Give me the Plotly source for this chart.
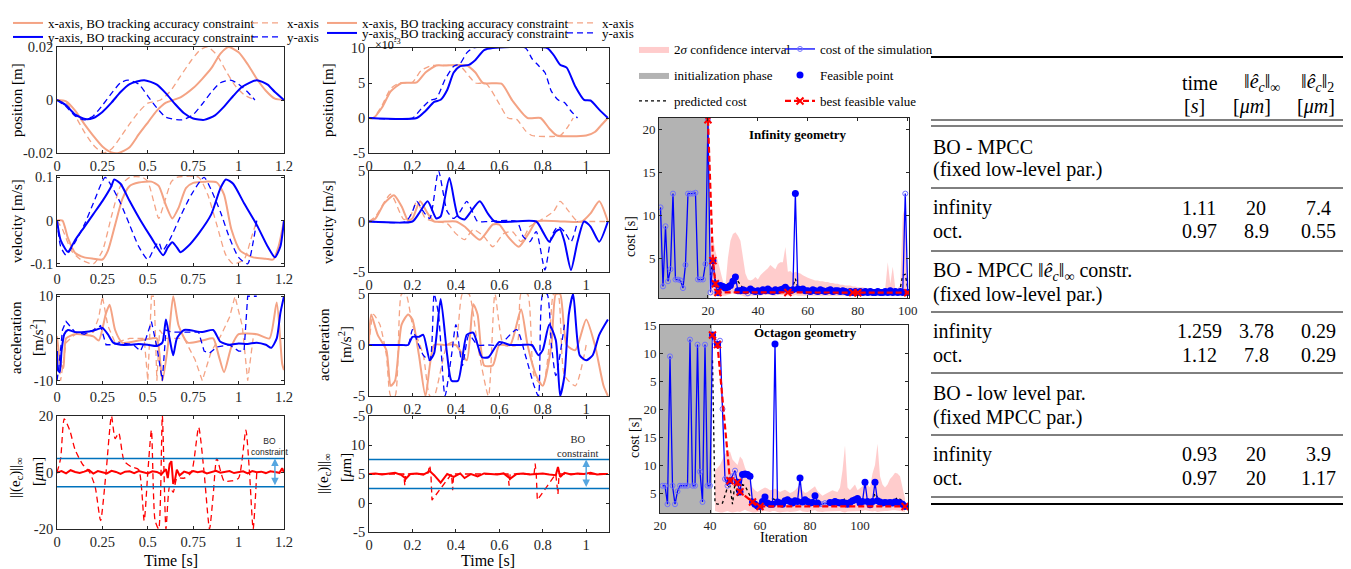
import plotly.graph_objects as go

# ---------------- DATA ----------------
# Left column (time axis 0..1.25 s)
tL_xpos_bo = [0, 0.05, 0.1, 0.15, 0.2, 0.25, 0.3, 0.34, 0.4, 0.45, 0.5, 0.55, 0.6, 0.64, 0.68, 0.75, 0.8, 0.85, 0.9, 0.945, 1.0, 1.05, 1.1, 1.15, 1.2, 1.25]
L_xpos_bo = [0, -0.0005, -0.004, -0.009, -0.0135, -0.0175, -0.0198, -0.02, -0.0178, -0.013, -0.0085, -0.004, -0.001, 0, 0.001, 0.0045, 0.008, 0.012, 0.0175, 0.02, 0.018, 0.0135, 0.008, 0.0035, 0.0005, 0]
tL_xpos = [0, 0.05, 0.1, 0.15, 0.2, 0.255, 0.3, 0.35, 0.4, 0.45, 0.5, 0.57, 0.62, 0.68, 0.74, 0.79, 0.83, 0.88, 0.93, 0.98, 1.03, 1.09]
L_xpos = [0, -0.001, -0.006, -0.012, -0.017, -0.02, -0.0185, -0.014, -0.009, -0.0045, -0.0012, 0, 0.003, 0.009, 0.015, 0.019, 0.02, 0.017, 0.011, 0.0055, 0.002, 0]
tL_ypos_bo = [0, 0.05, 0.1, 0.155, 0.2, 0.25, 0.3, 0.35, 0.4, 0.48, 0.55, 0.6, 0.65, 0.7, 0.75, 0.81, 0.87, 0.92, 0.97, 1.02, 1.1, 1.16, 1.2, 1.25]
L_ypos_bo = [0, -0.002, -0.0055, -0.0072, -0.0068, -0.0045, -0.001, 0.003, 0.006, 0.0075, 0.0058, 0.0025, -0.0015, -0.005, -0.007, -0.0075, -0.0058, -0.0025, 0.0015, 0.005, 0.0075, 0.0058, 0.003, 0]
tL_ypos = [0, 0.05, 0.1, 0.15, 0.2, 0.25, 0.3, 0.35, 0.39, 0.45, 0.5, 0.55, 0.6, 0.69, 0.75, 0.8, 0.85, 0.9, 0.955, 1.0, 1.05, 1.09]
L_ypos = [0, -0.0025, -0.006, -0.0075, -0.006, -0.002, 0.0025, 0.0065, 0.0075, 0.006, 0.0015, -0.003, -0.0065, -0.0075, -0.0055, -0.0015, 0.003, 0.0065, 0.0075, 0.006, 0.003, 0]

tL_yvel_bo = [0, 0.02, 0.06, 0.1, 0.15, 0.2, 0.25, 0.3, 0.315, 0.35, 0.4, 0.46, 0.52, 0.585, 0.61, 0.635, 0.66, 0.68, 0.72, 0.78, 0.85, 0.9, 0.93, 0.97, 1.03, 1.1, 1.16, 1.2, 1.23, 1.25]
L_yvel_bo = [0, -0.045, -0.072, -0.045, -0.015, 0.015, 0.045, 0.08, 0.095, 0.085, 0.045, 0.0, -0.04, -0.08, -0.062, -0.05, -0.062, -0.073, -0.06, -0.03, 0.015, 0.075, 0.095, 0.085, 0.04, -0.01, -0.06, -0.085, -0.06, 0]
tL_xvel_bo = [0, 0.03, 0.06, 0.1, 0.15, 0.2, 0.25, 0.28, 0.32, 0.36, 0.4, 0.45, 0.52, 0.56, 0.6, 0.635, 0.67, 0.71, 0.75, 0.82, 0.88, 0.92, 0.96, 1.01, 1.08, 1.15, 1.19, 1.22, 1.25]
L_xvel_bo = [0, 0, -0.04, -0.075, -0.085, -0.088, -0.09, -0.07, -0.01, 0.05, 0.08, 0.088, 0.09, 0.08, 0.035, 0.005, 0.03, 0.075, 0.087, 0.09, 0.088, 0.06, -0.02, -0.07, -0.085, -0.088, -0.09, -0.06, 0]
tL_xvel = [0, 0.03, 0.08, 0.13, 0.2, 0.25, 0.3, 0.35, 0.4, 0.47, 0.5, 0.535, 0.56, 0.59, 0.63, 0.66, 0.78, 0.83, 0.88, 0.93, 0.97, 1.03, 1.07, 1.1]
L_xvel = [0, -0.02, -0.07, -0.09, -0.1, -0.07, 0.01, 0.08, 0.1, 0.1, 0.09, 0.04, 0.005, 0.04, 0.09, 0.1, 0.1, 0.06, -0.01, -0.08, -0.1, -0.09, -0.04, 0]
tL_yvel = [0, 0.02, 0.05, 0.1, 0.15, 0.2, 0.265, 0.3, 0.35, 0.4, 0.45, 0.5, 0.54, 0.56, 0.58, 0.62, 0.68, 0.74, 0.81, 0.85, 0.9, 0.95, 1.0, 1.05, 1.08, 1.1]
L_yvel = [0, -0.06, -0.08, -0.05, -0.01, 0.04, 0.1, 0.08, 0.04, -0.01, -0.06, -0.09, -0.06, -0.05, -0.07, -0.045, 0.01, 0.06, 0.1, 0.07, 0.02, -0.04, -0.085, -0.1, -0.05, 0]

tL_yacc_bo = [0, 0.005, 0.015, 0.025, 0.04, 0.06, 0.1, 0.15, 0.2, 0.25, 0.28, 0.31, 0.35, 0.4, 0.45, 0.5, 0.55, 0.58, 0.6, 0.62, 0.64, 0.66, 0.7, 0.8, 0.86, 0.9, 0.95, 1.0, 1.05, 1.1, 1.15, 1.18, 1.21, 1.23, 1.25]
L_yacc_bo = [-3, -7.5, -8, -3, 1, 2, 1.5, 1.5, 1.8, 2.5, 1, -1, -1.5, -1.5, -1.3, -1.5, -1.8, -1, 4.5, 0, -4, 0, 2, 1.5, 2, -0.8, -1.5, -1.2, -1.3, -1.0, -1.5, -2.2, 0, 6, 10]
tL_xacc_bo = [0, 0.02, 0.035, 0.05, 0.1, 0.2, 0.23, 0.27, 0.29, 0.32, 0.36, 0.45, 0.52, 0.55, 0.58, 0.61, 0.64, 0.67, 0.72, 0.8, 0.86, 0.89, 0.92, 0.96, 1.0, 1.1, 1.17, 1.21, 1.24, 1.25]
L_xacc_bo = [0.5, -6, -7, 0, 1, 0.5, -0.5, 6, 8, 2, -1, -0.5, 0, 0, -10, -2, 10, 3, -1, -0.5, 0, -4, -8, -2, 1, 1, 0, 8.5, -6, -7.5]
tL_xacc = [0, 0.02, 0.05, 0.1, 0.15, 0.2, 0.23, 0.25, 0.28, 0.32, 0.4, 0.48, 0.5, 0.52, 0.535, 0.55, 0.565, 0.6, 0.7, 0.76, 0.8, 0.85, 0.9, 0.95, 0.98, 1.02, 1.05, 1.08]
L_xacc = [0, -10, -1, 1, 1, 1.5, 5, 10, 3, -1, 0, 0, -10, 10, 10, -10, 2, 0, 0, -5, -10, -3, 0.5, 5, 10, 3, -10, 0]
tL_yacc = [0, 0.01, 0.03, 0.05, 0.1, 0.15, 0.2, 0.24, 0.27, 0.3, 0.35, 0.42, 0.46, 0.49, 0.52, 0.55, 0.58, 0.6, 0.63, 0.7, 0.78, 0.81, 0.84, 0.88, 0.95, 1.0, 1.03, 1.05, 1.07, 1.1]
L_yacc = [-10, -7, 2, 4, 1.5, 1, 2, 3, -1.5, -1.5, -1, -1.5, -3, 0, 4, -2, -10, 2, 1.5, 1.5, 1.5, -3, -3.5, -2, -1.5, -3, -3, 10, 10, 10]

tL_err_bo = [0, 0.025, 0.05, 0.075, 0.1, 0.125, 0.15, 0.175, 0.2, 0.225, 0.25, 0.275, 0.3, 0.325, 0.35, 0.375, 0.4, 0.425, 0.45, 0.475, 0.5, 0.525, 0.55, 0.575, 0.6,
             0.61, 0.62, 0.63, 0.64, 0.65, 0.66, 0.675,
             0.7, 0.725, 0.75, 0.775, 0.8, 0.825, 0.85, 0.875, 0.9, 0.925, 0.95, 0.975, 1.0, 1.025, 1.05, 1.075, 1.1, 1.125, 1.15, 1.175, 1.2, 1.225, 1.24, 1.25]
L_err_bo = [0, 0.5, -0.3, 0.8, 0.2, -0.2, 0.3, 0.9, -0.4, 0.5, 0.1, -0.3, 0.6, 0.2, -0.5, 0.3, 0.4, -0.2, 0.5, 0.1, -0.3, 0.4, 0.2, -0.6, 1.2,
            -2, 3, 4, -4, -2.5, 1, -1,
            0.3, -0.2, 0.5, 0.1, 0.4, -0.3, 0.2, 0.6, -0.1, 0.3, 0.5, -0.2, 0.2, 0.4, -0.3, 0.5, 0.1, 0.3, -0.2, 0.4, 0.2, -0.1, 1.5, 0]
tL_err = [0, 0.02, 0.04, 0.07, 0.1, 0.14, 0.18, 0.21, 0.24, 0.27, 0.3, 0.32, 0.34, 0.37, 0.41, 0.45, 0.48, 0.5, 0.52, 0.54,
          0.56, 0.58, 0.6, 0.62, 0.64, 0.66, 0.7, 0.74, 0.78, 0.81, 0.84, 0.86, 0.88, 0.92, 0.96, 1.0, 1.04, 1.06, 1.08, 1.1]
L_err = [0, 5, 19, 15, 8, 3, 0, -5, -17, 0, 20, 12, 14, 4, 2, 1, -17, 0, 15, -17,
         -20, 20, -20, -5, -7, -2, -2, 0, 16, 0, -20, -8, 5, -3, -3, -2, 15, 0, -20, 0]
L_constraint = [-5, 5]
L_arrow_t = 1.2

# Middle column (time axis 0..1.1 s), position in 1e-3 m
tM_xpos_bo = [0, 0.02, 0.06, 0.1, 0.15, 0.22, 0.26, 0.31, 0.35, 0.45, 0.49, 0.525, 0.61, 0.66, 0.73, 0.79, 0.83, 0.865, 1.0, 1.04, 1.07, 1.1]
M_xpos_bo = [0, 0, 1.5, 3.8, 5, 5.1, 6.5, 7.5, 7.5, 7.5, 6.5, 5.0, 4.9, 2.5, 0, 0, -1.5, -2.5, -2.5, -2.0, -1.0, 0]
tM_xpos = [0, 0.02, 0.06, 0.1, 0.14, 0.2, 0.24, 0.29, 0.33, 0.42, 0.46, 0.49, 0.54, 0.6, 0.64, 0.68, 0.72, 0.75, 0.88, 0.91, 0.94]
M_xpos = [0, 0, 1.8, 4.2, 5, 5.1, 6.8, 7.5, 7.5, 7.4, 6, 5.0, 4.9, 2, 0, -0.2, -1.8, -2.5, -2.5, -1.5, 0]
tM_ypos_bo = [0, 0.22, 0.26, 0.3, 0.33, 0.36, 0.39, 0.42, 0.46, 0.49, 0.53, 0.57, 0.82, 0.85, 0.88, 0.91, 0.95, 0.99, 1.02, 1.06, 1.1]
M_ypos_bo = [0, 0, 1.0, 2.3, 2.6, 4.0, 6.5, 7.4, 7.6, 8.3, 9.7, 10, 10, 9.0, 7.6, 7.2, 4.5, 2.6, 2.5, 1.2, 0]
tM_ypos = [0, 0.2, 0.24, 0.28, 0.31, 0.35, 0.39, 0.42, 0.45, 0.48, 0.72, 0.75, 0.78, 0.81, 0.84, 0.87, 0.9, 0.93, 0.96]
M_ypos = [0, 0, 1.3, 2.5, 2.8, 5.5, 7.4, 7.8, 9.3, 10, 10, 8.5, 7.5, 6.5, 3.8, 2.6, 2.2, 1.0, 0]

tM_xvel_bo = [0, 0.03, 0.07, 0.115, 0.15, 0.18, 0.2, 0.235, 0.27, 0.3, 0.35, 0.4, 0.44, 0.51, 0.57, 0.6, 0.64, 0.69, 0.74, 0.77, 0.9, 0.98, 1.02, 1.06, 1.1]
M_xvel_bo = [0, 0.3, 1.8, 2.6, 1.5, 0.1, 0.3, 2, 0.8, 0, 0, 0, -0.5, -1.8, -0.3, -0.3, -1.5, -2.5, -1, 0, 0, 0, 0.8, 2, 0]
tM_xvel = [0, 0.03, 0.1, 0.16, 0.19, 0.22, 0.26, 0.3, 0.36, 0.4, 0.44, 0.48, 0.53, 0.57, 0.62, 0.66, 0.7, 0.74, 0.78, 0.85, 0.88, 0.92, 0.96, 1.0, 1.1]
M_xvel = [0, 0.5, 2.7, 0.2, 0.5, 2, 0.3, 0, -0.2, -1.2, -1.8, -0.8, -1.5, -2.5, -1.2, -1, -2, -0.5, 0, 1, 2, 1, 0, 0, 0]
tM_yvel_bo = [0, 0.2, 0.23, 0.27, 0.31, 0.33, 0.37, 0.41, 0.44, 0.47, 0.51, 0.55, 0.58, 0.77, 0.8, 0.83, 0.86, 0.88, 0.9, 0.93, 0.96, 0.99, 1.02, 1.06, 1.1]
M_yvel_bo = [0, 0, 0.8, 2, 0.3, 0.5, 4.3, 0.5, 0.2, 1, 2, 0.7, 0, 0, -1, -2, -1, -0.8, -2, -4.8, -2, 0, -0.5, -2, 0]
tM_yvel = [0, 0.17, 0.2, 0.22, 0.25, 0.28, 0.32, 0.36, 0.39, 0.42, 0.45, 0.48, 0.5, 0.55, 0.68, 0.71, 0.74, 0.77, 0.81, 0.84, 0.87, 0.9, 0.93, 0.96]
M_yvel = [0, 0, 1, 2, 1, 0.3, 5, 1, 0.3, 1, 2, 0.8, 0, 0, 0, -1.5, -2, -1, -4.8, -1.5, -0.5, -1, -2, 0]

tM_xacc_bo = [0, 0.01, 0.04, 0.08, 0.1, 0.12, 0.15, 0.18, 0.2, 0.23, 0.26, 0.3, 0.35, 0.4, 0.45, 0.48, 0.5, 0.53, 0.57, 0.6, 0.65, 0.7, 0.73, 0.77, 0.8, 0.84, 0.86, 0.88, 0.91, 0.95, 1.0, 1.04, 1.08, 1.1]
M_xacc_bo = [0.5, 3, 1, -0.5, -4, -3.5, 2, 3, 2.5, -1, -5, 0, 0, 0, -1.5, 4, 3, -2, -2, 0, 0, 3.5, 0, -3, -4, 0, 5, 5, 0, -0.5, 2.5, 0, -4, -5]
tM_xacc = [0, 0.02, 0.05, 0.08, 0.1, 0.12, 0.15, 0.17, 0.2, 0.25, 0.28, 0.3, 0.36, 0.4, 0.43, 0.46, 0.5, 0.55, 0.58, 0.62, 0.68, 0.7, 0.73, 0.76, 0.8, 0.83, 0.85, 0.87, 0.9, 0.95, 1.0]
M_xacc = [0, 3, 2, -1, -5, -5, 5, 5, 2, -1, -5, -5, 0, 0.5, 5, 5, 0, -5, 5, 0, 0, 5, 5, -3, -4, 0, 5, 5, -3, -4, 0]
tM_yacc_bo = [0, 0.15, 0.18, 0.2, 0.23, 0.25, 0.28, 0.3, 0.33, 0.36, 0.38, 0.41, 0.45, 0.48, 0.52, 0.55, 0.6, 0.65, 0.7, 0.75, 0.78, 0.8, 0.83, 0.86, 0.88, 0.9, 0.92, 0.94, 0.97, 1.0, 1.03, 1.06, 1.1]
M_yacc_bo = [0, 0, 0, 0.8, 0.8, 1, -1.5, -0.8, 4.5, -1, -3.5, -3.5, 1, 1.2, -1.2, -1.2, 0.3, 0, 0, 0, -1, -0.5, 2, 0.5, -5, -3, 3, 5, -1, -1.5, -1, 1, 2.5]
tM_yacc = [0, 0.15, 0.18, 0.2, 0.22, 0.25, 0.28, 0.3, 0.32, 0.35, 0.38, 0.4, 0.43, 0.46, 0.5, 0.55, 0.6, 0.68, 0.72, 0.76, 0.78, 0.8, 0.82, 0.84, 0.86, 0.9]
M_yacc = [0, 0, 0, 1.5, 0.5, -1, -1.5, 5, 3, -5, -1, 2, -2, 1, 0, 0, 0, 1.5, -1, -4, -5, 5, 5, 0, -3, 2]

tM_err_bo = [0, 0.03, 0.06, 0.09, 0.12, 0.15, 0.17, 0.19, 0.22, 0.25, 0.28, 0.3, 0.33, 0.36, 0.39, 0.42, 0.44, 0.47, 0.5, 0.53,
             0.56, 0.59, 0.62, 0.65, 0.68, 0.71, 0.74, 0.77, 0.8, 0.83, 0.86, 0.87, 0.88, 0.9, 0.93, 0.96, 0.99, 1.02, 1.05, 1.08, 1.1]
M_err_bo = [5, 5.1, 4.9, 5.0, 5.2, 4.8, 4.2, 5.0, 5.1, 4.9, 5.5, 4.8, 3.5, 5.0, 4.5, 5.1, 4.3, 5.0, 4.6, 5.1,
            5.0, 4.9, 5.1, 4.2, 5.0, 5.1, 4.9, 5.0, 5.1, 4.9, 4.8, 6.2, 4.5, 5.2, 4.9, 5.1, 5.0, 5.2, 4.9, 5.0, 5.0]
tM_err = [0, 0.16, 0.165, 0.17, 0.27, 0.28, 0.285, 0.29, 0.38, 0.385, 0.39, 0.64, 0.645, 0.65, 0.76, 0.765, 0.77, 0.775, 0.86, 0.87, 0.875, 1.1]
M_err = [5, 5, 3, 5, 5, 6.5, 5, 0.5, 5, 2.2, 5, 5, 3, 5, 5, 6.8, 5, 0.5, 5, 1.5, 5, 5]
M_constraint = [2.5, 7.5]
M_arrow_t = 1.0

# BO - infinity geometry (iterations 1..100)
inf_iter = list(range(1, 101))
inf_cost = [10.9, 1.7, 8.7, 2.3, 3.7, 12.5, 2.5, 2.5, 2.4, 1.5,
            4.2, 12.5, 12.5, 12.5, 12.6, 2.5, 2.5, 2.5, 4.3, 21.1,
            1.0, 4.7, 2.0, 1.0, 1.8, 1.7, 1.5, 1.6, 1.8, 2.3,
            2.8, 1.2, 1.2, 1.3, 1.2, 0.9, 1.4, 1.2, 1.1, 1.2,
            1.1, 1.3, 1.2, 1.4, 1.2, 1.1, 1.3, 1.2, 1.3, 1.4,
            1.6, 1.3, 1.2, 1.3, 12.5, 1.4, 1.3, 1.4, 1.2, 1.2,
            1.1, 1.3, 1.2, 1.1, 1.3, 1.2, 1.1, 1.2, 1.3, 1.1,
            1.2, 1.2, 1.1, 1.2, 1.1, 1.0, 1.1, 1.0, 1.1, 1.0,
            1.1, 1.0, 1.1, 1.0, 1.1, 1.0, 1.0, 1.1, 1.0, 1.0,
            1.1, 1.0, 1.2, 1.0, 1.1, 1.0, 1.1, 1.0, 12.5, 1.0]
inf_infeasible = [21, 36, 99]
inf_init_end = 20.5
inf_band_iter = list(range(21, 101))
inf_band_hi = [7.0, 7.3, 5.8, 4.5, 3.2, 2.3, 1.8, 5.0, 7.0,
               7.8, 8.0, 7.6, 7.0, 5.0, 3.2, 2.5, 2.4, 2.5, 2.8,
               2.5, 3.0, 3.3, 3.5, 3.8, 4.2, 4.0, 3.7, 4.3, 4.5,
               4.5, 6.3, 3.4, 3.5, 3.2, 3.4, 3.3, 3.2, 3.0, 2.8,
               2.7, 2.6, 2.5, 2.4, 2.4, 2.3, 2.3, 2.2, 2.2, 2.1,
               2.1, 2.0, 2.0, 1.9, 1.9, 1.8, 1.8, 1.8, 1.7, 1.7,
               1.6, 1.6, 1.6, 1.5, 1.5, 1.5, 1.4, 1.4, 1.4, 1.4,
               1.3, 1.5, 4.5, 2.0, 4.0, 1.5, 1.5, 1.8, 10.0, 11.0,
               1.0]
inf_band_lo = [0.6, 0.7, 0.6, 0.5, 0.5, 0.6, 0.6, 0.7, 0.8,
               0.9, 0.9, 0.8, 0.7, 0.6, 0.5, 0.5, 0.6, 0.6, 0.6,
               0.6, 0.6, 0.7, 0.7, 0.7, 0.7, 0.6, 0.6, 0.7, 0.7,
               0.7, 0.8, 0.6, 0.6, 0.6, 0.7, 0.6, 0.6, 0.6, 0.6,
               0.6, 0.6, 0.6, 0.6, 0.6, 0.6, 0.6, 0.6, 0.6, 0.6,
               0.6, 0.6, 0.6, 0.6, 0.6, 0.6, 0.6, 0.6, 0.6, 0.6,
               0.6, 0.6, 0.6, 0.6, 0.6, 0.6, 0.6, 0.6, 0.6, 0.6,
               0.6, 0.6, 0.7, 0.6, 0.7, 0.6, 0.6, 0.6, 0.8, 0.8,
               0.6]
inf_pred = [3.0, 4.5, 2.2, 1.3, 1.0, 1.1, 1.8, 2.0, 1.5,
            2.5, 2.7, 2.3, 1.8, 1.5, 1.2, 1.0, 1.2, 1.3, 1.2,
            1.3, 1.2, 1.4, 1.3, 1.5, 1.3, 1.2, 1.4, 1.3, 1.5,
            1.6, 1.9, 1.3, 1.4, 1.7, 2.6, 1.5, 1.3, 1.4, 1.3,
            1.2, 1.3, 1.2, 1.2, 1.3, 1.2, 1.2, 1.3, 1.2, 1.2,
            1.2, 1.1, 1.2, 1.2, 1.1, 1.2, 1.1, 1.1, 1.2, 1.1,
            1.1, 1.2, 1.1, 1.1, 1.1, 1.2, 1.1, 1.1, 1.1, 1.2,
            1.1, 1.1, 1.3, 1.2, 1.2, 1.1, 1.1, 1.5, 3.0, 3.1,
            1.5]
inf_best_iter = [20, 22, 23, 24, 52, 78, 80, 100]
inf_best = [21.1, 4.7, 2.0, 1.0, 1.0, 0.98, 0.97, 0.97]

# BO - octagon geometry (iterations 21..118, broken axis values as drawn)
oct_iter = list(range(21, 119))
oct_cost = [6.3, 6.3, 3.0, 29.4, 6.3, 3.0, 5.3, 6.3, 6.3, 6.3,
            6.3, 32.4, 6.3, 6.3, 31.5, 8.8, 3.4, 31.5, 6.3, 6.3,
            33.2, 32.0, 31.5, 32.2, 20.0, 7.5, 6.3, 7.2, 8.0, 9.0,
            6.9, 5.2, 8.3, 8.4, 8.3, 8.0, 3.4, 3.0, 2.7, 2.6,
            3.5, 4.3, 3.2, 3.0, 3.0, 31.6, 3.4, 3.2, 3.0, 3.6,
            3.8, 3.5, 3.2, 3.6, 3.5, 7.7, 3.4, 3.8, 3.5, 3.2,
            3.3, 4.5, 3.2, 3.0, 3.0, 3.2, 3.1, 3.3, 3.2, 3.5,
            3.3, 3.2, 3.3, 3.2, 3.0, 3.3, 3.6, 3.8, 4.0, 3.2,
            3.5, 6.9, 3.5, 2.9, 3.5, 6.9, 3.6, 3.4, 3.2, 3.3,
            3.2, 3.3, 3.2, 3.4, 3.3, 3.2, 3.0, 2.6]
oct_infeasible = [42, 44, 45, 46, 47, 49, 50, 84, 85, 86, 87]
oct_init_end = 40.8
oct_band_iter = list(range(42, 119))
oct_band_hi = [9.0, 9.5, 10.0, 11.0, 12.0, 12.2, 12.4, 11.0, 10.5,
               10.0, 11.5, 11.0, 9.5, 8.5, 7.0, 6.0, 5.5, 5.2, 5.5,
               5.8, 6.0, 5.8, 5.5, 5.6, 5.8, 5.5, 5.2, 5.4, 5.6,
               5.3, 5.0, 5.2, 5.5, 6.0, 6.5, 5.5, 5.0, 5.2, 5.5,
               5.8, 6.2, 5.3, 4.8, 4.5, 4.8, 5.0, 5.2, 5.5, 5.3,
               5.2, 6.0, 9.0, 13.5, 6.0, 5.5, 6.0, 6.5, 5.5, 5.8,
               6.2, 7.0, 6.5, 6.0, 8.5, 10.0, 13.8, 8.0, 6.5, 6.0,
               6.5, 7.5, 8.0, 8.6, 8.5, 8.0, 6.0, 4.0]
oct_band_lo = [1.8, 1.6, 1.5, 1.5, 1.6, 1.8, 1.6, 1.5, 1.6,
               1.7, 1.6, 1.8, 2.0, 1.8, 1.6, 1.5, 1.5, 1.6, 1.7,
               1.8, 1.8, 1.7, 1.6, 1.8, 1.8, 1.6, 1.5, 1.6, 1.7,
               1.7, 1.6, 1.6, 1.7, 1.8, 1.9, 1.7, 1.6, 1.6, 1.7,
               1.8, 1.9, 1.7, 1.6, 1.6, 1.7, 1.7, 1.8, 1.8, 1.7,
               1.7, 1.8, 1.6, 1.5, 1.7, 1.7, 1.8, 1.8, 1.7, 1.8,
               1.8, 1.9, 1.8, 1.7, 1.7, 1.8, 1.6, 1.7, 1.8, 1.8,
               1.8, 1.9, 1.9, 1.9, 1.9, 1.8, 1.7, 1.6]
oct_pred_iter = list(range(41, 119))
oct_pred = [28.7, 3.2, 3.0, 3.0, 3.2, 4.5, 6.0, 6.2, 3.0, 6.8,
            4.5, 5.0, 6.5, 6.3, 5.5, 4.5, 3.5, 3.0, 2.8, 2.8,
            3.0, 3.5, 3.0, 3.2, 4.0, 3.8, 3.0, 3.2, 3.0, 3.3,
            3.5, 3.2, 3.0, 3.4, 3.6, 4.0, 3.5, 3.2, 3.0, 3.3,
            3.5, 3.4, 3.0, 2.9, 3.0, 3.1, 3.3, 3.2, 3.0, 3.6,
            3.5, 3.3, 3.6, 4.0, 3.6, 3.3, 3.4, 3.5, 3.8, 3.4,
            3.5, 3.8, 3.6, 3.0, 3.8, 5.0, 4.2, 3.5, 3.3, 3.4,
            3.3, 3.5, 3.4, 3.8, 4.2, 3.9, 3.5, 3.2]
oct_best_iter = [41, 43, 48, 51, 52, 57, 60, 118]
oct_best = [33.2, 31.5, 7.2, 6.9, 5.2, 3.4, 2.6, 2.6]

# Table
table_cols = ["time", "‖<i>ê</i><sub><i>c</i></sub>‖<sub>∞</sub>", "‖<i>ê</i><sub><i>c</i></sub>‖<sub>2</sub>"]
table_units = ["[<i>s</i>]", "[<i>μm</i>]", "[<i>μm</i>]"]
table_groups = [["BO - MPCC", "(fixed low-level par.)"],
                ["BO - MPCC ‖<i>ê</i><sub><i>c</i></sub>‖<sub>∞</sub> constr.", "(fixed low-level par.)"],
                ["BO - low level par.", "(fixed MPCC par.)"]]
table_rows = [[("infinity", "1.11", "20", "7.4"), ("oct.", "0.97", "8.9", "0.55")],
              [("infinity", "1.259", "3.78", "0.29"), ("oct.", "1.12", "7.8", "0.29")],
              [("infinity", "0.93", "20", "3.9"), ("oct.", "0.97", "20", "1.17")]]

# ---------------- FIGURE ----------------
# The page body keeps an 8px default margin, so the figure is drawn from (8, 8) on screen.
OFF = 8
W, H = 1351 - OFF, 569 - OFF
def PX(x): return (x - OFF) / W
def PY(y): return 1 - (y - OFF) / H

SERIF = 'Liberation Serif'
SANS = 'Liberation Sans'
SALMON = '#F4A384'
BLUE = '#0000FF'
RED = '#FF0000'
CBLUE = '#0072BD'
ABLUE = '#55A6E0'
AXC = '#262626'

boxes = {1: (57, 284, 47, 153), 2: (57, 284, 176, 266), 3: (57, 284, 295, 384), 4: (57, 284, 416, 529),
         5: (369, 609, 48, 153), 6: (369, 609, 171, 272), 7: (369, 609, 294, 396), 8: (369, 609, 416, 532),
         9: (659, 909, 118, 298), 10: (660, 908, 325, 513)}

fig = go.Figure()

def ax(k):
    return ('x' if k == 1 else f'x{k}'), ('y' if k == 1 else f'y{k}')

def line(k, x, y, color, width, dash='solid', name=None, legend=None, shape='spline'):
    xa, ya = ax(k)
    fig.add_trace(go.Scatter(x=x, y=y, xaxis=xa, yaxis=ya, mode='lines',
                             line=dict(color=color, width=width, dash=dash, shape=shape,
                                       smoothing=0.6 if shape == 'spline' else None),
                             name=name, legend=legend, showlegend=name is not None,
                             hoverinfo='skip'))

DASH = '6px,4px'
# left column
line(1, tL_xpos, L_xpos, SALMON, 1.3, DASH, 'x-axis', 'legend3')
line(1, tL_xpos_bo, L_xpos_bo, SALMON, 2, 'solid', 'x-axis, BO tracking accuracy constraint', 'legend')
line(1, tL_ypos, L_ypos, BLUE, 1.3, DASH, 'y-axis', 'legend4')
line(1, tL_ypos_bo, L_ypos_bo, BLUE, 2, 'solid', 'y-axis, BO tracking accuracy constraint', 'legend2')

line(2, tL_xvel, L_xvel, SALMON, 1.3, DASH)
line(2, tL_xvel_bo, L_xvel_bo, SALMON, 2)
line(2, tL_yvel, L_yvel, BLUE, 1.3, DASH)
line(2, tL_yvel_bo, L_yvel_bo, BLUE, 2)

line(3, tL_xacc, L_xacc, SALMON, 1.3, DASH, shape='linear')
line(3, tL_xacc_bo, L_xacc_bo, SALMON, 2)
line(3, tL_yacc, L_yacc, BLUE, 1.3, DASH, shape='linear')
line(3, tL_yacc_bo, L_yacc_bo, BLUE, 2)

line(4, tL_err, L_err, RED, 1.3, DASH)
line(4, tL_err_bo, L_err_bo, RED, 2, shape='linear')

# middle column
line(5, tM_xpos, M_xpos, SALMON, 1.3, DASH, 'x-axis', 'legend7')
line(5, tM_xpos_bo, M_xpos_bo, SALMON, 2, 'solid', 'x-axis, BO tracking accuracy constraint', 'legend5')
line(5, tM_ypos, M_ypos, BLUE, 1.3, DASH, 'y-axis', 'legend8')
line(5, tM_ypos_bo, M_ypos_bo, BLUE, 2, 'solid', 'y-axis, BO tracking accuracy constraint', 'legend6')

line(6, tM_xvel, M_xvel, SALMON, 1.3, DASH)
line(6, tM_xvel_bo, M_xvel_bo, SALMON, 2)
line(6, tM_yvel, M_yvel, BLUE, 1.3, DASH)
line(6, tM_yvel_bo, M_yvel_bo, BLUE, 2)

line(7, tM_xacc, M_xacc, SALMON, 1.3, DASH)
line(7, tM_xacc_bo, M_xacc_bo, SALMON, 2)
line(7, tM_yacc, M_yacc, BLUE, 1.3, DASH)
line(7, tM_yacc_bo, M_yacc_bo, BLUE, 2)

line(8, tM_err, M_err, RED, 1.3, DASH, shape='linear')
line(8, tM_err_bo, M_err_bo, RED, 2, shape='linear')

# constraint lines
for k, cons, xr in [(4, L_constraint, [0, 1.25]), (8, M_constraint, [0, 1.105])]:
    xa, ya = ax(k)
    for c in cons:
        fig.add_trace(go.Scatter(x=xr, y=[c, c], xaxis=xa, yaxis=ya, mode='lines',
                                 line=dict(color=CBLUE, width=1.5), showlegend=False, hoverinfo='skip'))

# BO plots
INF_YR = [0.35, 21.3]
OCT_YR = [1.43, 35.0]
INF_XR = [0.4, 100.5]
OCT_XR = [20, 119.2]

def bo(k, it, cost, infeas, init_end, xr, yr, band_it, band_lo, band_hi, pred_it, pred, best_it, best, leg):
    xa, ya = ax(k)
    fig.add_trace(go.Scatter(x=[xr[0], xr[0], init_end, init_end, xr[0]], y=[yr[0], yr[1], yr[1], yr[0], yr[0]],
                             xaxis=xa, yaxis=ya, mode='lines', fill='toself', fillcolor='#B3B3B3',
                             line=dict(width=0, color='#B3B3B3'), name='initialization phase',
                             legend='legend10', showlegend=leg, hoverinfo='skip'))
    fig.add_trace(go.Scatter(x=band_it, y=band_lo, xaxis=xa, yaxis=ya, mode='lines',
                             line=dict(width=0, color='rgba(0,0,0,0)'), showlegend=False, hoverinfo='skip'))
    fig.add_trace(go.Scatter(x=band_it, y=band_hi, xaxis=xa, yaxis=ya, mode='lines', fill='tonexty',
                             fillcolor='rgba(255,170,170,0.6)', line=dict(width=0, color='rgba(255,170,170,0.6)'),
                             name='2<i>σ</i> confidence interval', legend='legend9', showlegend=leg,
                             hoverinfo='skip'))
    fig.add_trace(go.Scatter(x=pred_it, y=pred, xaxis=xa, yaxis=ya, mode='lines',
                             line=dict(color='black', width=1.3, dash='dot'), name='predicted cost',
                             legend='legend11', showlegend=leg, hoverinfo='skip'))
    fig.add_trace(go.Scatter(x=it, y=cost, xaxis=xa, yaxis=ya, mode='lines+markers',
                             line=dict(color=BLUE, width=1.3),
                             marker=dict(symbol='circle-open', size=5, color='#7070FF', line=dict(width=1)),
                             name='cost of the simulation', legend='legend12', showlegend=leg,
                             hoverinfo='skip'))
    fx = [i for i, c in zip(it, cost) if i > init_end and i not in infeas]
    fy = [c for i, c in zip(it, cost) if i > init_end and i not in infeas]
    fig.add_trace(go.Scatter(x=fx, y=fy, xaxis=xa, yaxis=ya, mode='markers',
                             marker=dict(symbol='circle', size=7, color=BLUE),
                             name='Feasible point', legend='legend13', showlegend=leg,
                             hoverinfo='skip'))
    fig.add_trace(go.Scatter(x=best_it, y=best, xaxis=xa, yaxis=ya, mode='lines+markers',
                             line=dict(color=RED, width=2.2, dash='6px,3px'),
                             marker=dict(symbol='x-thin', size=7, color=RED, line=dict(width=2, color=RED)),
                             name='best feasible value', legend='legend14', showlegend=leg,
                             hoverinfo='skip'))

bo(9, inf_iter, inf_cost, inf_infeasible, inf_init_end, INF_XR, INF_YR, inf_band_iter, inf_band_lo, inf_band_hi,
   inf_band_iter, inf_pred, inf_best_iter, inf_best, True)
bo(10, oct_iter, oct_cost, oct_infeasible, oct_init_end, OCT_XR, OCT_YR, oct_band_iter, oct_band_lo, oct_band_hi,
   oct_pred_iter, oct_pred, oct_best_iter, oct_best, False)

# ---------------- AXES ----------------
base = dict(showline=True, linecolor=AXC, linewidth=0.8, mirror='ticks', ticks='inside', ticklen=3,
            tickcolor=AXC, tickwidth=0.8, showgrid=False, zeroline=False)

tL = dict(range=[0, 1.25], tickvals=[0, 0.25, 0.5, 0.75, 1, 1.25], ticktext=['0', '0.25', '0.5', '0.75', '1', '1.2'])
tM = dict(range=[0, 1.105], tickvals=[0, 0.2, 0.4, 0.6, 0.8, 1.0], ticktext=['0', '0.2', '0.4', '0.6', '0.8', '1'])
yspecs = {
    1: dict(range=[-0.02, 0.02], tickvals=[-0.02, 0, 0.02], ticktext=['-0.02', '0', '0.02']),
    2: dict(range=[-0.105, 0.103], tickvals=[-0.1, 0, 0.1], ticktext=['-0.1', '0', '0.1']),
    3: dict(range=[-10.8, 10.3], tickvals=[-10, 0, 10], ticktext=['-10', '0', '10']),
    4: dict(range=[-20, 20], tickvals=[-20, 0, 20], ticktext=['-20', '0', '20']),
    5: dict(range=[-5, 10], tickvals=[-5, 0, 5, 10], ticktext=['-5', '0', '5', '10']),
    6: dict(range=[-5, 5], tickvals=[-5, 0, 5], ticktext=['-5', '0', '5']),
    7: dict(range=[-5, 5], tickvals=[-5, 0, 5], ticktext=['-5', '0', '5']),
    8: dict(range=[-5, 15], tickvals=[-5, 0, 5, 10, 15], ticktext=['-5', '0', '5', '10', '-5']),
    9: dict(range=INF_YR, tickvals=[5, 10, 15, 20], ticktext=['5', '10', '15', '20']),
    10: dict(range=OCT_YR, tickvals=[5, 10, 15, 20, 25, 30, 35], ticktext=['5', '10', '15', '20', '5', '10', '15']),
}
xspecs = {k: (tL if k <= 4 else tM) for k in range(1, 9)}
xspecs[9] = dict(range=INF_XR, tickvals=[20, 40, 60, 80, 100], ticktext=['20', '40', '60', '80', '100'])
xspecs[10] = dict(range=OCT_XR, tickvals=[20, 40, 60, 80, 100], ticktext=['20', '40', '60', '80', '100'])

lay = {}
for k, (x0, x1, y0, y1) in boxes.items():
    xn = 'xaxis' if k == 1 else f'xaxis{k}'
    yn = 'yaxis' if k == 1 else f'yaxis{k}'
    xa, ya = ax(k)
    fs = 13 if k >= 9 else 14.5
    bx = dict(base, tickfont=dict(family=SERIF, size=fs, color=AXC))
    lay[xn] = dict(bx, domain=[PX(x0), PX(x1)], anchor=ya, **xspecs[k])
    lay[yn] = dict(bx, domain=[PY(y1), PY(y0)], anchor=xa, **yspecs[k])
fig.update_layout(**lay)

# ---------------- ANNOTATIONS ----------------
ann = []
def text(x, y, s, size=14, angle=0, xanchor='center', family=SERIF, color='black', yanchor='middle'):
    ann.append(dict(x=PX(x), y=PY(y), xref='paper', yref='paper', text=s, showarrow=False,
                    textangle=angle, xanchor=xanchor, yanchor=yanchor,
                    font=dict(family=family, size=size, color=color)))

# y titles
text(17, 100, 'position [m]', 15, -90)
text(17, 221, 'velocity [m/s]', 15, -90)
text(16, 338, 'acceleration', 15, -90)
text(37, 338, '[m/s<sup>2</sup>]', 15, -90)
text(16, 478, '||(e<sub>c</sub>)||<sub>∞</sub>', 15, -90)
text(38, 472, '[<i>μ</i>m]', 15, -90)
text(328, 100, 'position [m]', 15, -90)
text(328, 222, 'velocity [m/s]', 15, -90)
text(324, 345, 'acceleration', 15, -90)
text(345, 345, '[m/s<sup>2</sup>]', 15, -90)
text(324, 474, '||(e<sub>c</sub>)||<sub>∞</sub>', 15, -90)
text(346, 468, '[<i>μ</i>m]', 15, -90)
text(171, 560, 'Time [s]', 16)
text(488, 560, 'Time [s]', 16)
text(388, 45, '×10<sup>-3</sup>', 12)
text(630, 237, 'cost [s]', 14, -90)
text(634, 438, 'cost [s]', 14, -90)
text(783, 537, 'Iteration', 14)
text(798, 134, '<b>Infinity geometry</b>', 13)
text(805, 332, '<b>Octagon geometry</b>', 13)
text(249, 447, 'BO<br>constraint', 8.5, 0, 'left', SANS, AXC)
text(555, 447, 'BO<br>constraint', 10.5, 0, 'left', SERIF, AXC)

# arrows
for k, cons, t in [(4, L_constraint, L_arrow_t), (8, M_constraint, M_arrow_t)]:
    xa, ya = ax(k)
    ann.append(dict(x=t, y=cons[1], ax=t, ay=cons[0], xref=xa, yref=ya, axref=xa, ayref=ya, text='',
                    showarrow=True, arrowhead=2, arrowside='end+start', arrowsize=1, arrowwidth=1.5,
                    arrowcolor=ABLUE))

# table
TS = 20
text(1200, 83, table_cols[0], TS)
text(1262, 83, table_cols[1], TS)
text(1317, 83, table_cols[2], TS)
text(1194, 106, table_units[0], TS)
text(1252, 106, table_units[1], TS)
text(1316, 106, table_units[2], TS)
group_y = [(147, 169), (271, 294), (393, 417)]
rows_y = [(208, 231), (331, 355), (454, 478)]
for g, (gy, ry) in enumerate(zip(group_y, rows_y)):
    text(931, gy[0], table_groups[g][0], TS, 0, 'left')
    text(931, gy[1], table_groups[g][1], TS, 0, 'left')
    for r, yy in enumerate(ry):
        lab, a, b, c = table_rows[g][r]
        text(931, yy, lab, TS, 0, 'left')
        text(1199, yy, a, TS)
        text(1256, yy, b, TS)
        text(1318, yy, c, TS)

shapes = []
def hline(y, w):
    shapes.append(dict(type='line', xref='paper', yref='paper', x0=PX(931), x1=PX(1343), y0=PY(y), y1=PY(y),
                       line=dict(color='black', width=w)))
hline(57, 2)
hline(120, 1)
hline(126, 1)
for yy in [188, 251, 312, 373, 435]:
    hline(yy, 1)
hline(497, 1)
hline(504, 2)

legfont = dict(family=SERIF, size=13, color='black')
bofont = dict(family=SERIF, size=13, color='black')
def leg(x, y, font):
    return dict(x=PX(x), y=PY(y), xanchor='left', yanchor='top', orientation='v', bgcolor='rgba(0,0,0,0)',
                borderwidth=0, font=font, itemclick=False, itemdoubleclick=False)

# legend boxes (screen pixels of the top-left corner)
fig.update_layout(
    width=W, height=H, margin=dict(l=0, r=0, t=0, b=0, autoexpand=False),
    paper_bgcolor='white', plot_bgcolor='white',
    annotations=ann, shapes=shapes,
    legend=leg(8, 8, legfont), legend2=leg(8, 22, legfont),
    legend3=leg(247, 8, legfont), legend4=leg(247, 22, legfont),
    legend5=leg(322, 8, legfont), legend6=leg(322, 18, legfont),
    legend7=leg(562, 8, legfont), legend8=leg(562, 18, legfont),
    legend9=leg(634, 34, bofont), legend10=leg(634, 60, bofont), legend11=leg(634, 86, bofont),
    legend12=leg(780, 34, bofont), legend13=leg(780, 60, bofont), legend14=leg(780, 86, bofont),
)

fig.write_html('out.html', config={'displayModeBar': False})
